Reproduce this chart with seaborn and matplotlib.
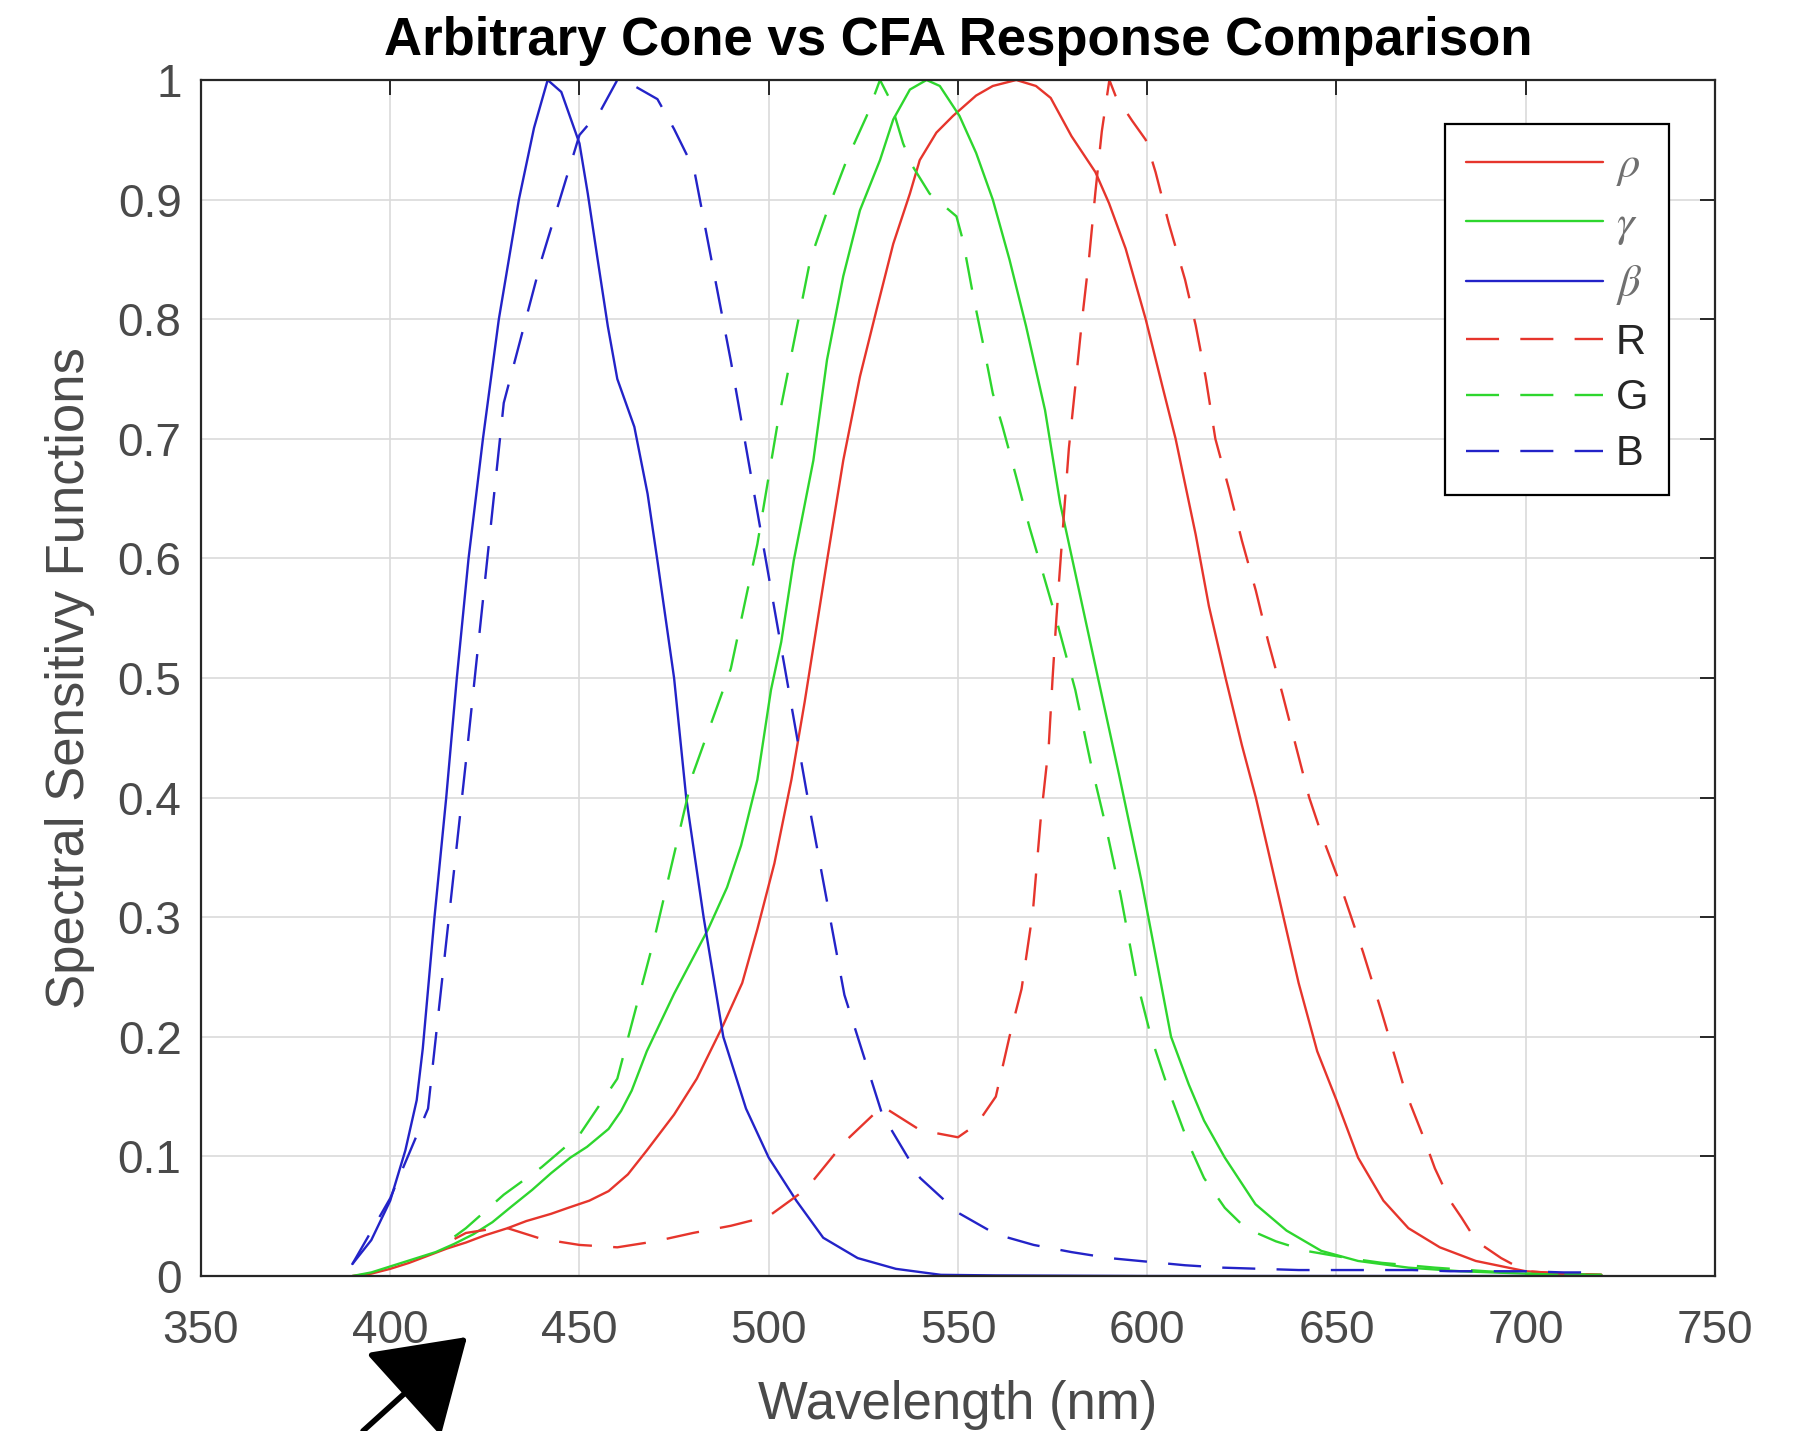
import matplotlib
matplotlib.use('Agg')
import matplotlib.pyplot as plt
import seaborn as sns
import pandas as pd

# Cone responses (solid) - wavelength in nm, normalised sensitivity
rho_wl = [390, 395, 400, 405, 410, 415, 420, 425, 431, 436, 442.5, 447, 452.6, 457.7, 462.8, 467.8,
          475, 481, 488, 493, 497, 501.5, 506, 509.5, 513.5, 515.4, 519.7, 524.1, 528.5, 532.9, 537.3,
          539.9, 544.3, 548.7, 554.8, 559.2, 565.4, 570.6, 574.5, 580, 586.3, 589.9, 594.3, 599.6, 604,
          607.5, 612.8, 616.3, 620.7, 625, 628.7, 632, 636, 640, 644.9, 650, 655.7, 662.4, 669, 677.3,
          686.8, 700, 710, 720]
rho = [0.0, 0.002, 0.006, 0.011, 0.017, 0.023, 0.028, 0.034, 0.04, 0.046, 0.052, 0.057, 0.063, 0.071,
       0.085, 0.105, 0.135, 0.165, 0.21, 0.245, 0.29, 0.345, 0.415, 0.48, 0.56, 0.598, 0.682, 0.752,
       0.808, 0.863, 0.905, 0.933, 0.956, 0.97, 0.987, 0.995, 1.0, 0.995, 0.985, 0.953, 0.923, 0.897,
       0.859, 0.8, 0.744, 0.7, 0.62, 0.56, 0.5, 0.444, 0.4, 0.355, 0.3, 0.245, 0.188, 0.147, 0.099,
       0.063, 0.04, 0.024, 0.0126, 0.004, 0.002, 0.001]

gamma_wl = [390, 395, 400, 405, 412, 417, 422, 427, 432, 437.5, 442.5, 447.6, 452, 457.7, 461, 463.8,
            467.8, 475, 484, 489, 492.7, 497, 500.6, 503.3, 506.6, 511.8, 515.4, 519.7, 524.1, 529.4,
            532.9, 537.3, 541.7, 545.2, 550.4, 554.8, 559.2, 563.6, 568, 573, 577, 582, 587, 592.5,
            598.5, 606.3, 611, 615, 620.5, 628.6, 636.8, 646, 655.7, 669, 682.7, 700, 720]
gamma = [0.0, 0.003, 0.008, 0.013, 0.02, 0.027, 0.035, 0.045, 0.058, 0.072, 0.086, 0.099, 0.108, 0.123,
         0.138, 0.155, 0.188, 0.236, 0.29, 0.325, 0.36, 0.415, 0.49, 0.53, 0.598, 0.682, 0.766, 0.836,
         0.891, 0.933, 0.967, 0.992, 1.0, 0.995, 0.97, 0.939, 0.9, 0.85, 0.794, 0.724, 0.646, 0.573,
         0.5, 0.42, 0.33, 0.2, 0.16, 0.13, 0.099, 0.06, 0.038, 0.021, 0.0126, 0.007, 0.004, 0.002,
         0.001]

beta_wl = [390, 395, 400, 404, 407, 408.6, 411.7, 414.8, 417.6, 420.7, 424.5, 428.7, 434, 438, 441.6,
           445.2, 450, 452.2, 454.8, 457.5, 460, 464.5, 468, 470.6, 475, 478.2, 482.8, 488, 494, 500,
           507.3, 514.4, 523.5, 533.6, 545.5, 560, 600, 650, 700, 720]
beta = [0.01, 0.03, 0.063, 0.105, 0.147, 0.19, 0.3, 0.4, 0.5, 0.6, 0.7, 0.8, 0.9, 0.96, 1.0, 0.99,
        0.947, 0.905, 0.85, 0.794, 0.75, 0.71, 0.654, 0.598, 0.5, 0.4, 0.3, 0.2, 0.14, 0.099, 0.063,
        0.032, 0.015, 0.006, 0.001, 0.0005, 0.0, 0.0, 0.0, 0.0]

# CFA responses (dashed)
R_wl = [417, 420, 430, 440, 450, 460, 470, 480, 490, 500, 510, 520, 530, 540, 550, 555, 560, 563.6,
        566.8, 569.8, 571.8, 574, 575, 576, 577, 578, 579.3, 581, 582.8, 584.6, 586.3, 588, 590, 591.6,
        596, 599.6, 602.2, 605.7, 610, 612.8, 615.4, 618, 621.6, 625, 628.7, 632, 635.7, 639.2, 642.8,
        646.3, 650.7, 657, 662, 668, 673, 676, 680, 683, 687, 693.5, 700, 710, 720]
R = [0.031, 0.036, 0.041, 0.031, 0.026, 0.024, 0.029, 0.036, 0.042, 0.05, 0.073, 0.112, 0.142, 0.122,
     0.116, 0.127, 0.15, 0.2, 0.24, 0.305, 0.38, 0.444, 0.5, 0.55, 0.594, 0.637, 0.692, 0.744, 0.8,
     0.85, 0.906, 0.957, 1.0, 0.987, 0.966, 0.95, 0.923, 0.88, 0.833, 0.795, 0.752, 0.7, 0.658,
     0.615, 0.573, 0.53, 0.487, 0.444, 0.4, 0.367, 0.33, 0.271, 0.22, 0.156, 0.116, 0.09, 0.063,
     0.049, 0.029, 0.015, 0.004, 0.002, 0.001]

G_wl = [417, 420, 430, 440, 450, 460, 470, 480, 490, 497, 502.2, 506.6, 511, 515.4, 520.6, 525.9, 529.4,
        532, 535.5, 538, 542.5, 549.6, 551.3, 554, 556.6, 559.2, 561.8, 565.4, 568.9, 571.5, 575.9,
        581, 585, 589, 593, 597, 601, 605.7, 611, 615, 620.5, 626, 634, 642, 653, 662, 676, 689.5,
        700, 710, 720]
G = [0.033, 0.04, 0.068, 0.091, 0.118, 0.165, 0.285, 0.42, 0.508, 0.612, 0.71, 0.78, 0.85, 0.89,
     0.933, 0.97, 1.0, 0.984, 0.947, 0.928, 0.905, 0.886, 0.866, 0.82, 0.78, 0.738, 0.71, 0.668,
     0.626, 0.598, 0.55, 0.49, 0.43, 0.377, 0.318, 0.25, 0.2, 0.155, 0.11, 0.082, 0.057, 0.04,
     0.029, 0.021, 0.015, 0.011, 0.007, 0.004, 0.002, 0.001, 0.001]

B_wl = [390, 400, 410, 420, 430, 440, 450, 455.7, 460, 464.5, 470.6, 475, 480.3, 490, 500, 510, 520,
        530, 540, 550, 560, 570, 580, 590, 600, 610, 620, 630, 640, 650, 660, 670, 680, 690, 700, 710,
        720]
B = [0.01, 0.065, 0.14, 0.43, 0.73, 0.85, 0.954, 0.975, 1.0, 0.995, 0.984, 0.959, 0.925, 0.765, 0.585,
     0.405, 0.235, 0.135, 0.082, 0.053, 0.035, 0.026, 0.02, 0.015, 0.012, 0.009, 0.007, 0.006, 0.005,
     0.005, 0.005, 0.005, 0.004, 0.004, 0.004, 0.003, 0.003]

labels = ['$\\rho$', '$\\gamma$', '$\\beta$', 'R', 'G', 'B']
series = [(rho_wl, rho), (gamma_wl, gamma), (beta_wl, beta), (R_wl, R), (G_wl, G), (B_wl, B)]

frames = []
for name, (wl, val) in zip(labels, series):
    frames.append(pd.DataFrame({'Wavelength': wl, 'Response': val, 'Curve': name}))
df = pd.concat(frames, ignore_index=True)

red, green, blue = '#e6352c', '#2ed62e', '#2323c8'
palette = dict(zip(labels, [red, green, blue, red, green, blue]))
dash = (14, 9)
dashes = dict(zip(labels, ['', '', '', dash, dash, dash]))

sns.set_style('whitegrid')
plt.rcParams['font.family'] = ['Liberation Sans', 'DejaVu Sans']
plt.rcParams['mathtext.fontset'] = 'stix'

fig, ax = plt.subplots(figsize=(17.99, 14.31), dpi=100)
fig.subplots_adjust(left=0.1117, right=0.9533, top=0.9441, bottom=0.1083)

sns.lineplot(data=df, x='Wavelength', y='Response', hue='Curve', style='Curve',
             hue_order=labels, style_order=labels, palette=palette, dashes=dashes,
             estimator=None, sort=False, linewidth=1.7, ax=ax)

ax.set_xlim(350, 750)
ax.set_ylim(0, 1)
ax.set_xticks(range(350, 751, 50))
ax.set_yticks([i / 10 for i in range(11)])
ax.set_yticklabels(['0'] + ['0.%d' % i for i in range(1, 10)] + ['1'])
ax.grid(True, color='#dadada', linewidth=1.2)
ax.set_axisbelow(True)
for sp in ax.spines.values():
    sp.set_color('#262626')
    sp.set_linewidth(1.6)
ax.tick_params(direction='in', length=11, width=1.4, top=True, right=True,
               labelsize=33, color='#262626', labelcolor='#4a4a4a')
ax.tick_params(axis='x', pad=24)
ax.tick_params(axis='y', pad=14)

ax.set_title('Arbitrary Cone vs CFA Response Comparison', fontsize=38, fontweight='bold',
             color='black', pad=18)
ax.set_xlabel('Wavelength (nm)', fontsize=38, color='#4a4a4a', labelpad=19)
ax.set_ylabel('Spectral Sensitivy Functions', fontsize=38, color='#4a4a4a', labelpad=16)

sns.move_legend(ax, loc='upper right', bbox_to_anchor=(0.9696, 0.963), borderaxespad=0,
                title=None, fontsize=30, frameon=True, fancybox=False, framealpha=1,
                edgecolor='black', handlelength=3.3, handletextpad=0.3, borderpad=0.5,
                labelspacing=0.38)
leg = ax.get_legend()
leg.get_frame().set_linewidth(1.6)
for t in leg.get_texts()[:3]:
    t.set_color('#707070')
    t.set_fontsize(32)

# hand-drawn arrow at the lower left
ax.annotate('', xy=(467, 94), xycoords='figure pixels', xytext=(363, 0), textcoords='figure pixels',
            arrowprops=dict(arrowstyle='-|>,head_length=1.0,head_width=0.65', mutation_scale=56,
                            lw=4, color='black', shrinkA=0, shrinkB=0),
            annotation_clip=False)

plt.savefig('out.png', dpi=100)
plt.close()
